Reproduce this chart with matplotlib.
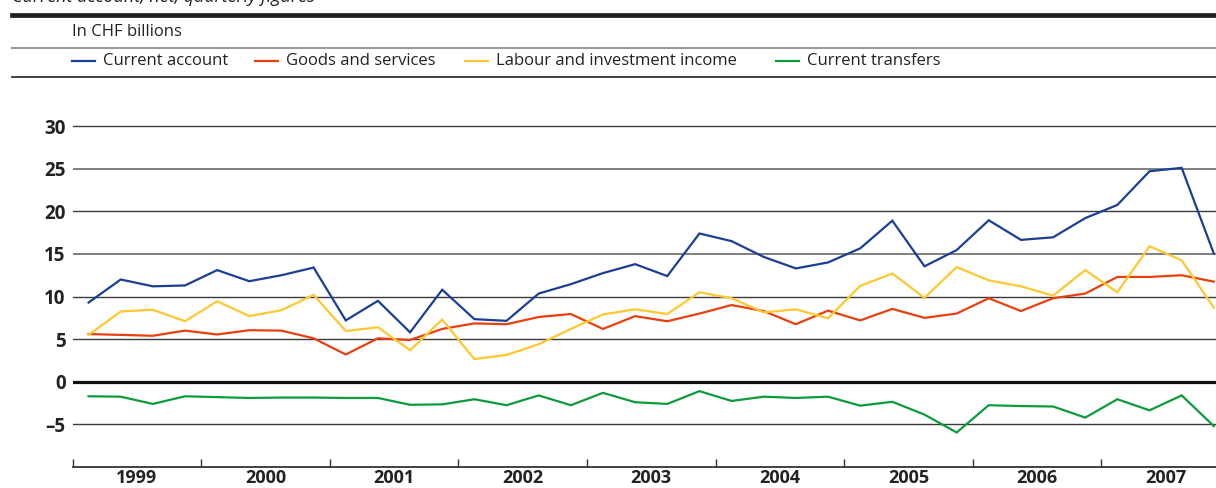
import numpy as np
import matplotlib
matplotlib.use("Agg")
import matplotlib.pyplot as plt
from matplotlib.lines import Line2D

plt.rcParams['font.family'] = ['Open Sans', 'DejaVu Sans']

# quarterly figures, 1999 Q1 .. 2007 Q4, in CHF billions
years = [1999, 2000, 2001, 2002, 2003, 2004, 2005, 2006, 2007]
current_account = [9.3, 12.0, 11.2, 11.3, 13.1, 11.8, 12.5, 13.4,
                   7.2, 9.5, 5.8, 10.8, 7.35, 7.15, 10.35, 11.45,
                   12.75, 13.8, 12.4, 17.4, 16.5, 14.65, 13.3, 14.0,
                   15.65, 18.9, 13.55, 15.45, 18.95, 16.65, 16.95, 19.2,
                   20.75, 24.7, 25.1, 15.05]
goods_services = [5.6, 5.5, 5.4, 6.0, 5.55, 6.05, 6.0, 5.1,
                  3.2, 5.1, 4.9, 6.2, 6.85, 6.75, 7.6, 7.95,
                  6.2, 7.7, 7.1, 8.0, 9.0, 8.3, 6.75, 8.35,
                  7.2, 8.55, 7.5, 8.0, 9.8, 8.3, 9.8, 10.35,
                  12.3, 12.3, 12.5, 11.75]
labour_income = [5.5, 8.25, 8.45, 7.1, 9.45, 7.7, 8.4, 10.2,
                 5.95, 6.4, 3.7, 7.3, 2.65, 3.15, 4.4, 6.2,
                 7.9, 8.5, 7.95, 10.5, 9.8, 8.15, 8.5, 7.45,
                 11.25, 12.7, 9.85, 13.45, 11.9, 11.2, 10.1, 13.1,
                 10.5, 15.9, 14.25, 8.7]
current_transfers = [-1.7, -1.75, -2.6, -1.7, -1.8, -1.9, -1.85, -1.85,
                     -1.9, -1.9, -2.7, -2.65, -2.05, -2.75, -1.6, -2.75,
                     -1.3, -2.4, -2.6, -1.1, -2.25, -1.75, -1.9, -1.75,
                     -2.8, -2.35, -3.85, -5.95, -2.75, -2.85, -2.9, -4.2,
                     -2.05, -3.35, -1.6, -5.2]
series_names = ["Current account", "Goods and services",
                "Labour and investment income", "Current transfers"]
colors = ["#1b3f94", "#e8400f", "#fdc831", "#0c9b3a"]
yticks = [-5, 0, 5, 10, 15, 20, 25, 30]

quarters = np.array([y + (q + 0.5) / 4 for y in years for q in range(4)])

W, H = 1216, 488
fig = plt.figure(figsize=(W / 100, H / 100), dpi=100)
ax = fig.add_axes([72.5 / W, 21 / H, 1 - 72.5 / W, (467 - 92) / H])

# grid lines
for v in yticks:
    if v == 0:
        ax.axhline(0, color="#111111", lw=2.3, zorder=2)
    elif v % 10 == 5 and v > 10:
        ax.axhline(v, color="#7f7f7f", lw=1.4, zorder=1)
    else:
        ax.axhline(v, color="#3a3a3a", lw=1.0, zorder=1)

data = [current_account, goods_services, labour_income, current_transfers]
for vals, c, name in zip(data, colors, series_names):
    ax.plot(quarters, vals, color=c, lw=1.6, label=name, zorder=3,
            solid_joinstyle="miter")

for s in ["top", "right", "left"]:
    ax.spines[s].set_visible(False)
ax.spines["bottom"].set_color("#333333")
ax.spines["bottom"].set_linewidth(1.3)

ax.set_yticks(yticks)
ax.set_yticklabels(["\u20135" if v < 0 else str(v) for v in yticks],
                   fontsize=13.5, fontweight="bold", color="#222222")
ax.tick_params(axis="y", length=0, pad=5)

ax.set_xticks(list(years) + [2008])
ax.set_xticklabels([])
ax.tick_params(axis="x", which="major", direction="in", length=6,
               width=1.0, color="#333333")
ax.set_xticks([y + 0.5 for y in years], minor=True)
ax.set_xticklabels([str(y) for y in years], minor=True,
                   fontsize=13, fontweight="bold", color="#222222")
ax.tick_params(axis="x", which="minor", length=0, pad=1.5)

# limits after the ticks, so the 2008 tick does not widen the view
ax.set_xlim(1999, 1999 + (W - 72.5) / 128.6)
ax.set_ylim(-10, 34)

# header
fig.text(12 / W, 1 - 2.5 / H, "Current account, net, quarterly figures",
         fontsize=13, style="italic", va="baseline", ha="left",
         color="#222222")
fig.add_artist(Line2D([12 / W, 1], [1 - 15 / H] * 2, color="#1e1e24",
                      lw=3.4, transform=fig.transFigure))
fig.text(72 / W, 1 - 32 / H, "In CHF billions", fontsize=12,
         va="center", ha="left", color="#222222")
fig.add_artist(Line2D([12 / W, 1], [1 - 47.7 / H] * 2, color="#9a9a9a",
                      lw=1.5, transform=fig.transFigure))
fig.add_artist(Line2D([12 / W, 1], [1 - 77.3 / H] * 2, color="#222222",
                      lw=1.2, transform=fig.transFigure))

# legend row
legend_x = [72, 255, 465, 776]
for lx, c, name in zip(legend_x, colors, series_names):
    fig.add_artist(Line2D([lx / W, (lx + 23) / W], [1 - 61 / H] * 2,
                          color=c, lw=1.6, transform=fig.transFigure))
    fig.text((lx + 31) / W, 1 - 61 / H, name, fontsize=12,
             va="center", ha="left", color="#222222")

fig.savefig("out.png", dpi=100)
